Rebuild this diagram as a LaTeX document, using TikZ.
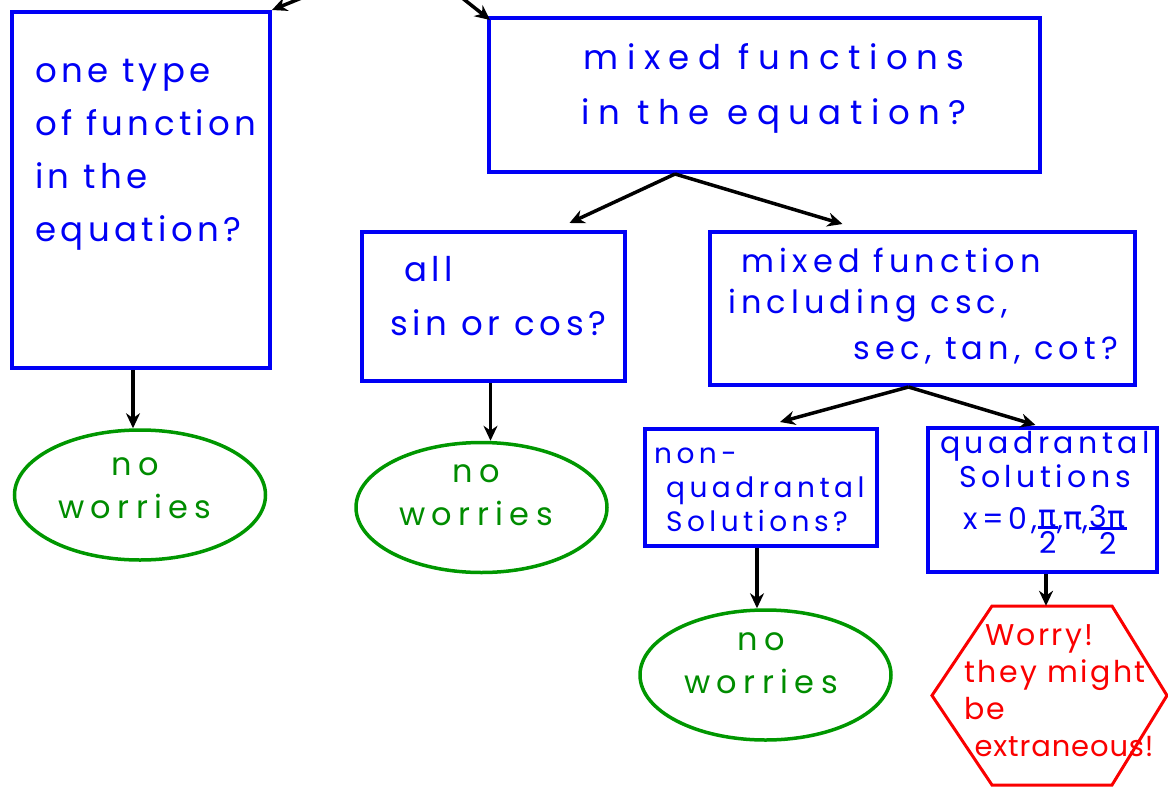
\documentclass[tikz,border=0pt]{standalone}
\usepackage{fontspec}
\setmainfont{Poppins}
\newfontfamily\pifont{DejaVu Sans}
\usetikzlibrary{shapes.geometric,arrows.meta}

\definecolor{penblue}{RGB}{0,0,245}
\definecolor{pengreen}{RGB}{0,140,0}
\definecolor{penred}{RGB}{250,0,0}

% small written fraction
\newcommand{\penfrac}[2]{\raisebox{-0.32\height}{\fontsize{30}{30}\selectfont\setlength{\arrayrulewidth}{3pt}%
  \setlength{\tabcolsep}{1pt}\begin{tabular}{c}#1\\[-9pt]\hline\rule{0pt}{24pt}#2\end{tabular}}}
\newcommand{\spaced}[1]{\addfontfeature{LetterSpace=#1}}

\tikzset{
  box/.style={draw=penblue, line width=4pt, inner sep=0pt},
  noworry/.style={ellipse, draw=pengreen!90!green, line width=3.5pt, inner sep=0pt,
    minimum width=251pt, minimum height=130pt},
  gtxt/.style={text=pengreen, inner sep=0pt, align=center,
    font=\fontsize{32}{43}\selectfont\spaced{20}},
  btxt/.style={text=penblue, inner sep=0pt, font=\fontsize{34}{54}\selectfont},
  arr/.style={-{Stealth[length=15pt,width=14pt]}, line width=3.5pt, black},
}

\begin{document}
\begin{tikzpicture}[x=1pt,y=-1pt]
   \useasboundingbox (0,0) rectangle (1168,787);

   % question boxes
   \node[box, minimum width=258pt, minimum height=356pt] (lbox) at (141,190) {};
   \node[btxt, anchor=west, align=left, font=\fontsize{34}{53}\selectfont\spaced{13}] (ltxt) at (35,155)
     {one type\\of function\\in the\\equation?};

   \node[box, minimum width=551pt, minimum height=154pt] (mix) at (764.5,95) {};
   \node[btxt, align=center, font=\fontsize{34}{55}\selectfont\spaced{25}] (mixtxt) at (774,88)
     {mixed functions\\in the equation?};

   \node[box, minimum width=263pt, minimum height=149pt] (sincos) at (493.5,306.5) {};
   \node[btxt, anchor=west, align=left, font=\fontsize{34}{54}\selectfont\spaced{14}] (sctxt) at (390,296)
     {\ all\\sin or cos?};

   \node[box, minimum width=425pt, minimum height=153pt] (mfi) at (922.5,308.5) {};
   \node[btxt, anchor=west, align=left, font=\fontsize{32}{41}\selectfont\spaced{16}] (mfitxt) at (728,285)
     {\ mixed function\\including csc,};
   \node[btxt, anchor=east, font=\fontsize{32}{41}\selectfont\spaced{16}] (mfitxt2) at (1118,350)
     {sec, tan, cot?};

   \node[box, minimum width=232pt, minimum height=117pt] (nq) at (761,487.5) {};
   \node[btxt, anchor=west, align=left, font=\fontsize{28}{34}\selectfont\spaced{16}] (nqtxt) at (654,490)
     {non-\\\ quadrantal\\\ Solutions?};

   \node[box, minimum width=229pt, minimum height=144pt] (quad) at (1042.5,500) {};
   \node[btxt, align=center, font=\fontsize{30}{34}\selectfont\spaced{15}] (qtxt) at (1045,497)
     {quadrantal\\Solutions\\[8pt]x=0,\penfrac{\pifont π}{2},{\fontsize{32}{32}\pifont π},\penfrac{3{\pifont π}}{2}};

   % answers
   \node[noworry] (nw1) at (140,495) {};
   \node[gtxt] (nw1txt) at (135,488) {no\\worries};
   \node[noworry] (nw2) at (481.5,507.5) {};
   \node[gtxt] (nw2txt) at (476,495) {no\\worries};
   \node[noworry] (nw3) at (765.5,675) {};
   \node[gtxt] (nw3txt) at (761,663) {no\\worries};

   \node[minimum width=235pt, minimum height=179pt, inner sep=0pt] (worry) at (1049.5,695.5) {};
   \draw[penred, line width=3pt, line join=miter]
     (932,695.5) -- (992,606) -- (1112,606) -- (1167,695.5) -- (1112,785) -- (992,785) -- cycle;
   \node[anchor=west, inner sep=0pt, text=penred, align=left,
         font=\fontsize{30}{37}\selectfont\spaced{8}] (worrytxt) at (964,691)
         {\ \ Worry!\\they might\\be\\\ {\fontsize{29}{37}\selectfont\spaced{3}extraneous!}};

   % connectors
   \coordinate (top1) at (304,-3);
   \coordinate (top2) at (461,-3);
   \draw[arr] (top1) -- (lbox.north east);
   \draw[arr] (top2) -- ([xshift=3pt,yshift=-4pt]mix.north west);

   \coordinate (fork1) at ([xshift=-89.5pt]mix.south);
   \draw[arr] (fork1) -- ([xshift=76pt,yshift=7pt]sincos.north);
   \draw[arr] (fork1) -- ([xshift=-80pt,yshift=6pt]mfi.north);

   \coordinate (fork2) at ([xshift=-14pt]mfi.south);
   \draw[arr] (fork2) -- ([xshift=19pt,yshift=5pt]nq.north);
   \draw[arr] (fork2) -- ([xshift=-7pt,yshift=1pt]quad.north);

   \draw[arr] ([xshift=-8pt]lbox.south) -- ([xshift=-8pt]lbox.south |- nw1.north);
   \draw[arr] ([xshift=-3pt]sincos.south) -- ([xshift=-3pt]sincos.south |- nw2.north);
   \draw[arr] ([xshift=-4pt]nq.south) -- ([xshift=-4pt]nq.south |- nw3.north);
   \draw[arr] ([xshift=3.5pt]quad.south) -- ([xshift=3.5pt]quad.south |- worry.north);
\end{tikzpicture}
\end{document}
